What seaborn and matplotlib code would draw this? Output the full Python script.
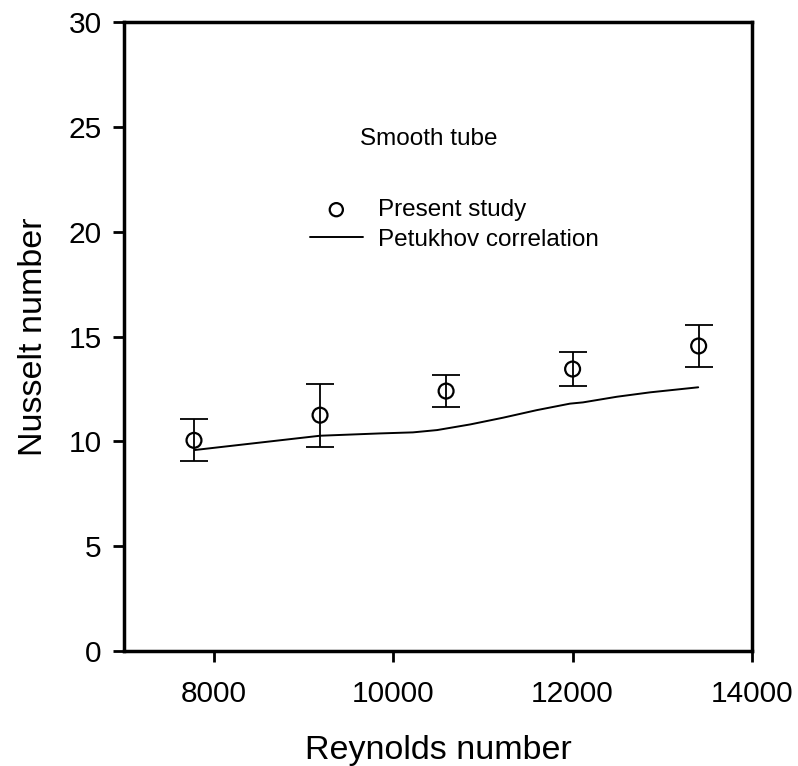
import matplotlib
matplotlib.use("Agg")
import matplotlib.pyplot as plt
import seaborn as sns
import pandas as pd

# Measured data: smooth tube
reynolds = [7780, 9185, 10590, 12000, 13405]
nusselt = [10.05, 11.25, 12.4, 13.45, 14.55]
nusselt_err = [1.0, 1.5, 0.76, 0.8, 1.0]

# Petukhov correlation curve
corr_re = [7790, 9185, 9850, 10220, 10490, 10860, 11225, 11600, 11970, 12115, 12495, 12865, 13400]
corr_nu = [9.59, 10.27, 10.38, 10.43, 10.54, 10.81, 11.13, 11.49, 11.80, 11.86, 12.13, 12.34, 12.58]

x_ticks = [8000, 10000, 12000, 14000]
y_ticks = [0, 5, 10, 15, 20, 25, 30]

sns.set_theme(style="white")
plt.rcParams["font.family"] = ["Liberation Sans", "DejaVu Sans"]

meas = pd.DataFrame({"Re": reynolds, "Nu": nusselt, "err": nusselt_err})
corr = pd.DataFrame({"Re": corr_re, "Nu": corr_nu})

fig = plt.figure(figsize=(7.98, 7.66), dpi=100)
ax = fig.add_axes([0.1554, 0.150, 0.787, 0.8213])

ax.errorbar(meas["Re"], meas["Nu"], yerr=meas["err"], fmt="none",
            ecolor="black", elinewidth=1.3, capsize=10, capthick=1.3, zorder=2)
sns.scatterplot(data=meas, x="Re", y="Nu", ax=ax, marker="o", s=115,
                facecolor="none", edgecolor="black", linewidth=1.6,
                label="Present study", zorder=3)
sns.lineplot(data=corr, x="Re", y="Nu", ax=ax, color="black", linewidth=1.4,
             label="Petukhov correlation", zorder=1)

ax.set_xlim(7000, 14000)
ax.set_ylim(0, 30)
ax.set_xticks(x_ticks)
ax.set_yticks(y_ticks)
ax.tick_params(axis="both", which="major", direction="out", length=8, width=2,
               labelsize=21.5, color="black", labelcolor="black")
ax.tick_params(axis="x", pad=13)
ax.tick_params(axis="y", pad=8)
ax.tick_params(top=False, right=False, bottom=True, left=True)
for s in ax.spines.values():
    s.set_linewidth(2.5)
    s.set_color("black")

ax.set_xlabel("Reynolds number", fontsize=24.5, labelpad=19, color="black")
ax.set_ylabel("Nusselt number", fontsize=24.5, labelpad=14, color="black")

ax.text(9630, 24.4, "Smooth tube", fontsize=17.5, ha="left", va="center", color="black")

leg = ax.legend(loc="upper left", bbox_to_anchor=(0.28, 0.734), frameon=False,
                fontsize=17.5, handlelength=2.2, handletextpad=0.6,
                labelspacing=0.32, borderaxespad=0, labelcolor="black")
leg.legend_handles[0].set_sizes([90])

fig.savefig("out.png", dpi=100)
